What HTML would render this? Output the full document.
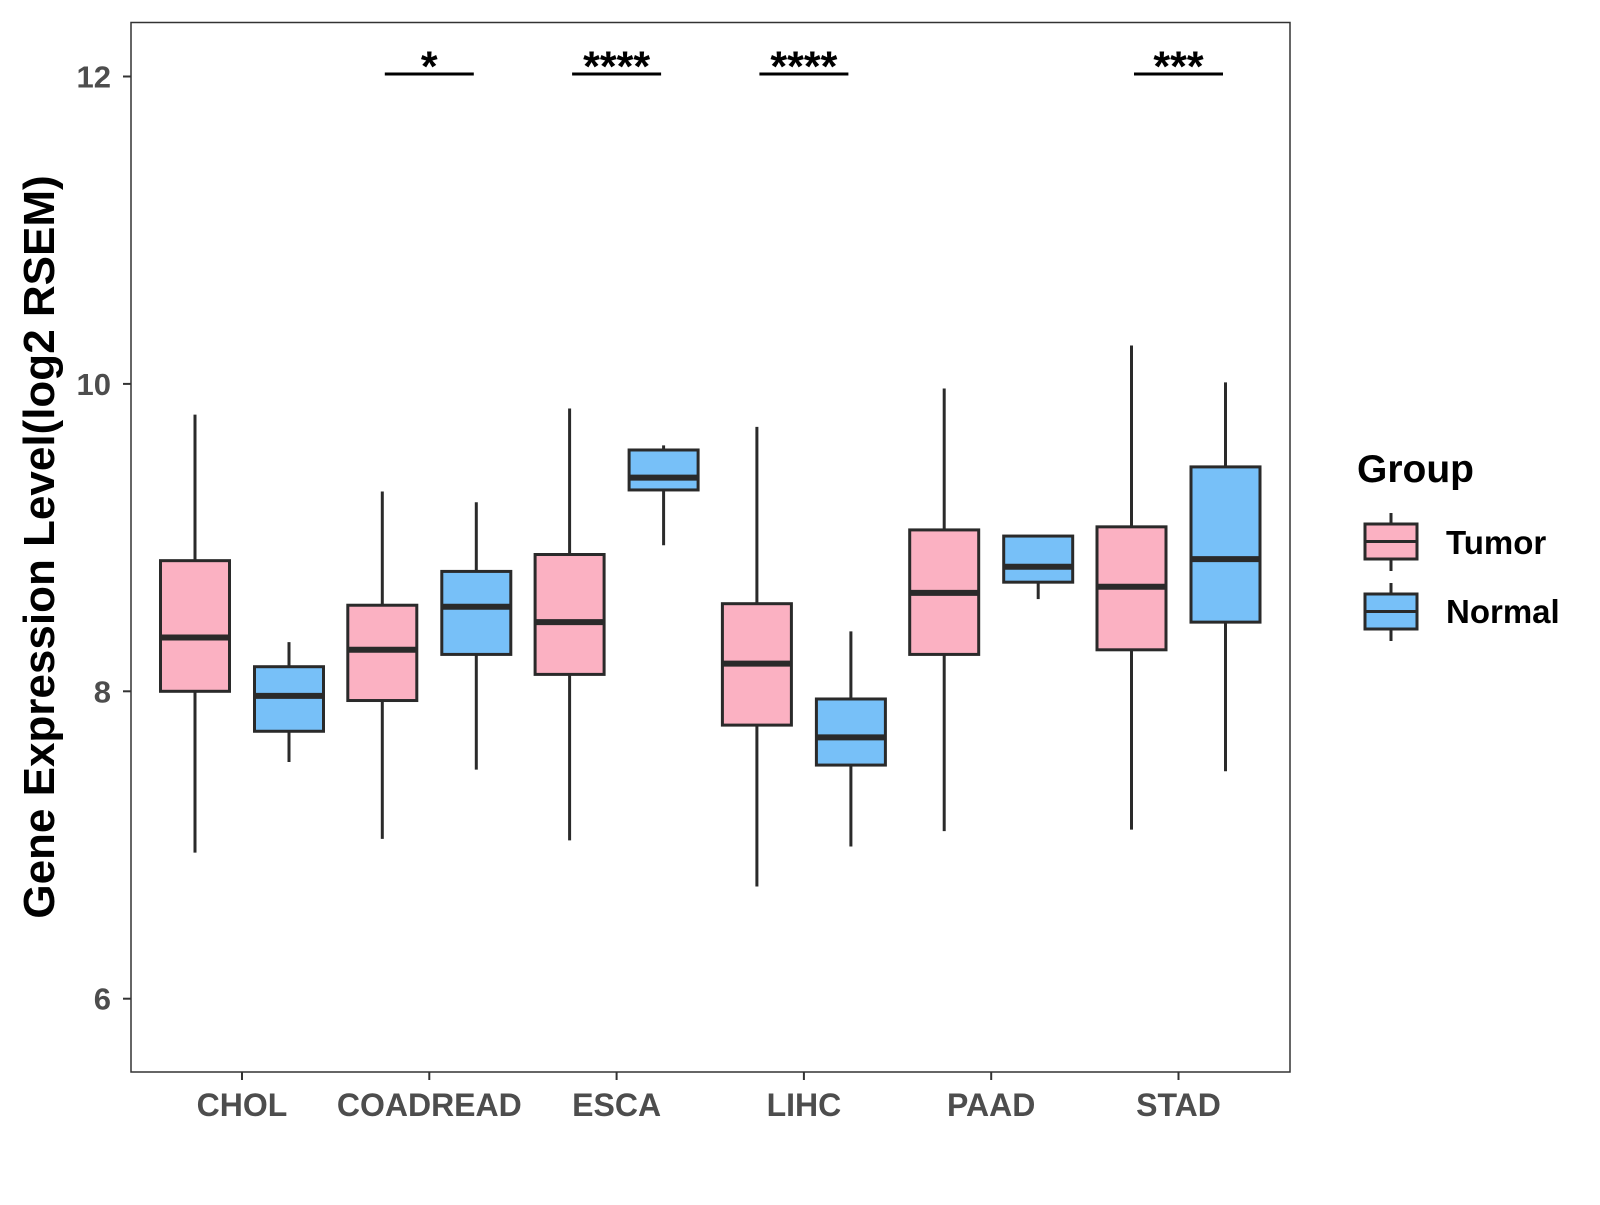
<!DOCTYPE html>
<html><head><meta charset="utf-8"><style>
html,body{margin:0;padding:0;background:#fff;}
svg text{font-family:"Liberation Sans",Arial,sans-serif;font-weight:bold;}
</style></head><body>
<svg id="chart" width="1600" height="1200" viewBox="0 0 1600 1200" xmlns="http://www.w3.org/2000/svg">
<rect x="131" y="22.5" width="1159" height="1049.5" fill="#fff" stroke="#333" stroke-width="1.5"/>
<g id="marks"></g>
<g id="axes"></g>
<text transform="translate(54,547) rotate(-90)" text-anchor="middle" font-size="44" fill="#000">Gene Expression Level(log2 RSEM)</text>
<g>
<text x="1357" y="482" font-size="39" fill="#000">Group</text>
<g>
<line x1="1391" y1="513" x2="1391" y2="571" stroke="#2a2a2a" stroke-width="3"/>
<rect x="1365" y="524" width="52" height="35" fill="#FBB1C2" stroke="#2a2a2a" stroke-width="3"/>
<line x1="1365" y1="541.5" x2="1417" y2="541.5" stroke="#2a2a2a" stroke-width="3"/>
<text x="1446" y="554" font-size="33" fill="#000">Tumor</text></g>
<g>
<line x1="1391" y1="583" x2="1391" y2="641" stroke="#2a2a2a" stroke-width="3"/>
<rect x="1365" y="594" width="52" height="35" fill="#77C0F8" stroke="#2a2a2a" stroke-width="3"/>
<line x1="1365" y1="611.5" x2="1417" y2="611.5" stroke="#2a2a2a" stroke-width="3"/>
<text x="1446" y="623" font-size="33" fill="#000">Normal</text></g>
</g>
</svg>
<script>
const categories=["CHOL","COADREAD","ESCA","LIHC","PAAD","STAD"];
const tumorLow=[6.95,7.04,7.03,6.73,7.09,7.10];
const tumorQ1=[8.00,7.94,8.11,7.78,8.24,8.27];
const tumorMed=[8.35,8.27,8.45,8.18,8.64,8.68];
const tumorQ3=[8.85,8.56,8.89,8.57,9.05,9.07];
const tumorHigh=[9.80,9.30,9.84,9.72,9.97,10.25];
const normalLow=[7.54,7.49,8.95,6.99,8.60,7.48];
const normalQ1=[7.74,8.24,9.31,7.52,8.71,8.45];
const normalMed=[7.97,8.55,9.39,7.70,8.81,8.86];
const normalQ3=[8.16,8.78,9.57,7.95,9.01,9.46];
const normalHigh=[8.32,9.23,9.60,8.39,9.01,10.01];
const sigLabels=["","*","****","****","","***"];
const yTicks=[6,8,10,12];
const NS="http://www.w3.org/2000/svg";
function y(v){return 76.5+(12-v)*153.7;}
function x(i){return 242+i*187.3;}
function mk(tag,attrs,parent){const e=document.createElementNS(NS,tag);for(const k in attrs)e.setAttribute(k,attrs[k]);parent.appendChild(e);return e;}
const marks=document.getElementById("marks"),axes=document.getElementById("axes");
function box(i,off,lo,q1,md,q3,hi,fill,name){
  const g=mk("g",{},marks);
  
  
  const cx=x(i)+off,w=69;
  mk("line",{x1:cx,x2:cx,y1:y(hi),y2:y(lo),stroke:"#2a2a2a","stroke-width":3},g);
  mk("rect",{x:cx-w/2,y:y(q3),width:w,height:y(q1)-y(q3),fill:fill,stroke:"#2a2a2a","stroke-width":3},g);
  mk("line",{x1:cx-w/2,x2:cx+w/2,y1:y(md),y2:y(md),stroke:"#2a2a2a","stroke-width":6},g);
}
categories.forEach((c,i)=>{
  box(i,-47,tumorLow[i],tumorQ1[i],tumorMed[i],tumorQ3[i],tumorHigh[i],"#FBB1C2","box-tumor-"+c.toLowerCase());
  box(i,47,normalLow[i],normalQ1[i],normalMed[i],normalQ3[i],normalHigh[i],"#77C0F8","box-normal-"+c.toLowerCase());
  if(sigLabels[i]){
    const g=mk("g",{},marks);
    
    
    const t=mk("text",{x:x(i),y:81,"text-anchor":"middle","font-size":43,fill:"#000"},g);t.textContent=sigLabels[i];
    mk("line",{x1:x(i)-44.5,x2:x(i)+44.5,y1:74,y2:74,stroke:"#000","stroke-width":3},g);
  }
  mk("line",{x1:x(i),x2:x(i),y1:1072,y2:1080,stroke:"#333","stroke-width":2},axes);
  const t=mk("text",{x:x(i),y:1116,"text-anchor":"middle","font-size":32,fill:"#4d4d4d"},axes);
  t.textContent=c;
  
  
});
yTicks.forEach(v=>{
  mk("line",{x1:123,x2:131,y1:y(v),y2:y(v),stroke:"#333","stroke-width":2},axes);
  const t=mk("text",{x:111,y:y(v)+11,"text-anchor":"end","font-size":31,fill:"#4d4d4d"},axes);
  t.textContent=v;
  
  
});
</script>
</body></html>
